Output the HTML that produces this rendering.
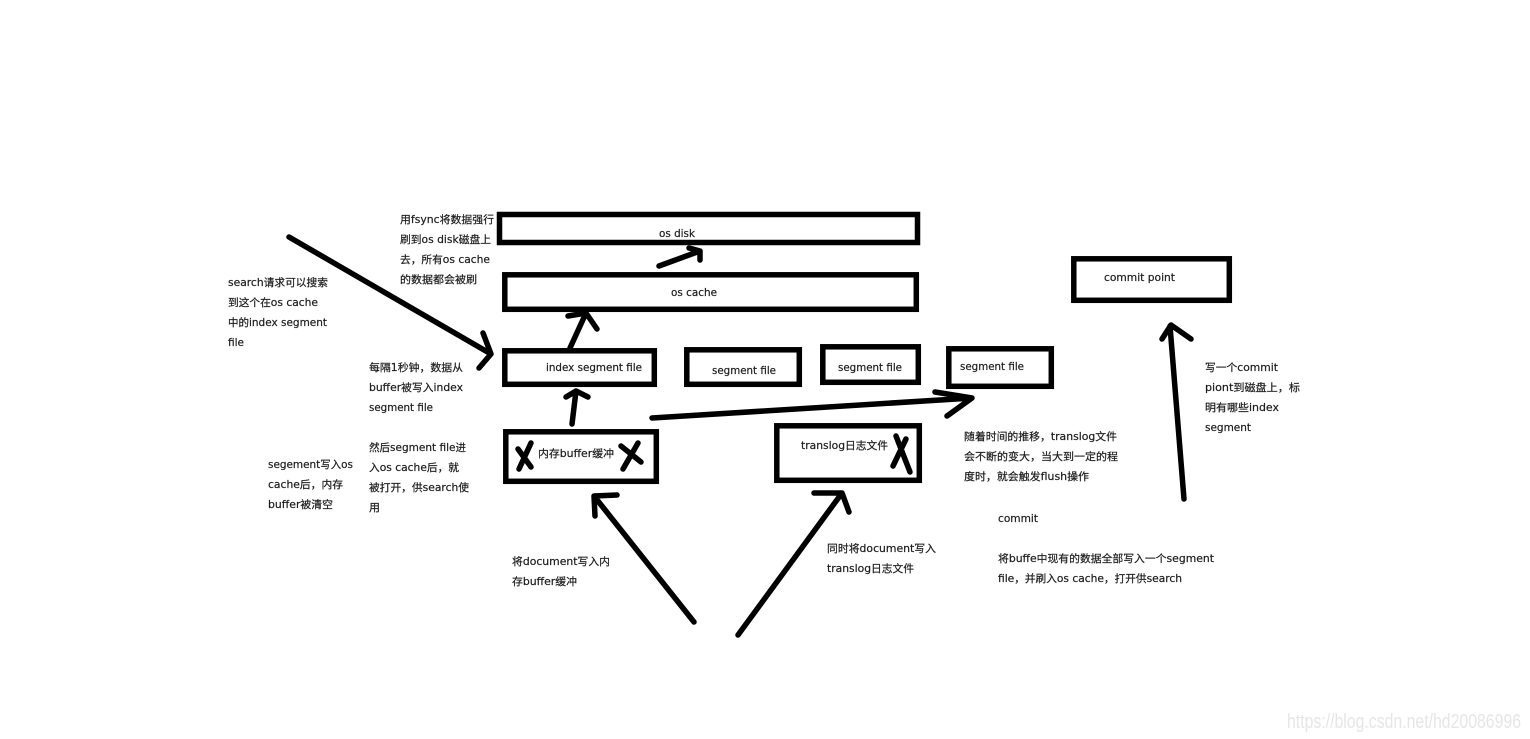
<!DOCTYPE html>
<html><head><meta charset="utf-8"><style>
html,body{margin:0;padding:0;background:#fff;width:1530px;height:739px;overflow:hidden}
svg{display:block}
text{font-family:"DejaVu Sans","Noto Sans CJK SC",sans-serif;font-size:10.5px;fill:#1c1c1c;stroke:#1c1c1c;stroke-width:.2px}
text.w{font-family:"Liberation Sans",sans-serif;font-size:20px;fill:#e6e6e6;stroke:none}
</style></head><body>
<svg width="1530" height="739" viewBox="0 0 1530 739" xmlns="http://www.w3.org/2000/svg">
<g fill="none" stroke="#000" stroke-width="5.500">
<rect x="499.500" y="214.500" width="418" height="28"/>
<rect x="504.800" y="274.800" width="411.500" height="34.500"/>
<rect x="504.800" y="350.800" width="149.500" height="33.500"/>
<rect x="686.800" y="349.800" width="112.500" height="34.500"/>
<rect x="822.800" y="346.800" width="95.500" height="35.500"/>
<rect x="948.800" y="348.800" width="102.500" height="37.500"/>
<rect x="776.800" y="425.800" width="142.500" height="54.500"/>
<rect x="505.800" y="431.800" width="150.500" height="49.500"/>
<rect x="1073.800" y="258.800" width="155.500" height="41.500"/>
</g>
<g fill="none" stroke="#000" stroke-width="5.500" stroke-linecap="round" stroke-linejoin="round">
<path d="M289 237L491 354M483 333L491 354L479 368" />
<path d="M570 348L586 313M568 316L586 313L597 329"/>
<path d="M572 424L576 391M566 397L576 391L588 397"/>
<path d="M659 266L700 251M689 248L700 251L700 260"/>
<path d="M652 418L972 398M935 392L972 398L947 416"/>
<path d="M694 622L594 496M595 516L594 496L617 495"/>
<path d="M738 635L842 493M814 493L842 493L849 512"/>
<path d="M1184 499L1170 326M1162 339L1171 325L1191 339"/>
<path d="M531 443L519 469M518 449L531 467"/>
<path d="M638 443L623 469M621 446L641 462"/>
<path d="M896 436L910 472M906 439L893 466"/>
</g>
<text x="659" y="237" textLength="36" lengthAdjust="spacingAndGlyphs">os disk</text>
<text x="671" y="296" textLength="46" lengthAdjust="spacingAndGlyphs">os cache</text>
<text x="546" y="371" textLength="96" lengthAdjust="spacingAndGlyphs">index segment file</text>
<text x="712" y="374" textLength="64" lengthAdjust="spacingAndGlyphs">segment file</text>
<text x="838" y="371" textLength="64" lengthAdjust="spacingAndGlyphs">segment file</text>
<text x="960" y="370" textLength="64" lengthAdjust="spacingAndGlyphs">segment file</text>
<text x="538" y="457" textLength="76" lengthAdjust="spacingAndGlyphs">内存buffer缓冲</text>
<text x="801" y="449" textLength="87" lengthAdjust="spacingAndGlyphs">translog日志文件</text>
<text x="1104" y="281" textLength="71" lengthAdjust="spacingAndGlyphs">commit point</text>
<text x="400" y="223" textLength="94" lengthAdjust="spacingAndGlyphs">用fsync将数据强行</text>
<text x="400" y="243" textLength="91" lengthAdjust="spacingAndGlyphs">刷到os disk磁盘上</text>
<text x="400" y="263" textLength="90" lengthAdjust="spacingAndGlyphs">去，所有os cache</text>
<text x="400" y="283" textLength="77" lengthAdjust="spacingAndGlyphs">的数据都会被刷</text>
<text x="228" y="286" textLength="100" lengthAdjust="spacingAndGlyphs">search请求可以搜索</text>
<text x="228" y="306" textLength="90" lengthAdjust="spacingAndGlyphs">到这个在os cache</text>
<text x="228" y="326" textLength="99" lengthAdjust="spacingAndGlyphs">中的index segment</text>
<text x="228" y="346" textLength="16" lengthAdjust="spacingAndGlyphs">file</text>
<text x="369" y="371" textLength="94" lengthAdjust="spacingAndGlyphs">每隔1秒钟，数据从</text>
<text x="369" y="391" textLength="94" lengthAdjust="spacingAndGlyphs">buffer被写入index</text>
<text x="369" y="411" textLength="64" lengthAdjust="spacingAndGlyphs">segment file</text>
<text x="369" y="451" textLength="97" lengthAdjust="spacingAndGlyphs">然后segment file进</text>
<text x="369" y="471" textLength="90" lengthAdjust="spacingAndGlyphs">入os cache后，就</text>
<text x="369" y="491" textLength="100" lengthAdjust="spacingAndGlyphs">被打开，供search使</text>
<text x="369" y="511" textLength="11" lengthAdjust="spacingAndGlyphs">用</text>
<text x="268" y="468" textLength="85" lengthAdjust="spacingAndGlyphs">segement写入os</text>
<text x="268" y="488" textLength="75" lengthAdjust="spacingAndGlyphs">cache后，内存</text>
<text x="268" y="508" textLength="65" lengthAdjust="spacingAndGlyphs">buffer被清空</text>
<text x="512" y="565" textLength="98" lengthAdjust="spacingAndGlyphs">将document写入内</text>
<text x="512" y="585" textLength="65" lengthAdjust="spacingAndGlyphs">存buffer缓冲</text>
<text x="827" y="552" textLength="109" lengthAdjust="spacingAndGlyphs">同时将document写入</text>
<text x="827" y="572" textLength="87" lengthAdjust="spacingAndGlyphs">translog日志文件</text>
<text x="964" y="440" textLength="153" lengthAdjust="spacingAndGlyphs">随着时间的推移，translog文件</text>
<text x="964" y="460" textLength="154" lengthAdjust="spacingAndGlyphs">会不断的变大，当大到一定的程</text>
<text x="964" y="480" textLength="125" lengthAdjust="spacingAndGlyphs">度时，就会触发flush操作</text>
<text x="998" y="522" textLength="40" lengthAdjust="spacingAndGlyphs">commit</text>
<text x="998" y="562" textLength="216" lengthAdjust="spacingAndGlyphs">将buffe中现有的数据全部写入一个segment</text>
<text x="998" y="582" textLength="184" lengthAdjust="spacingAndGlyphs">file，并刷入os cache，打开供search</text>
<text x="1205" y="371" textLength="73" lengthAdjust="spacingAndGlyphs">写一个commit</text>
<text x="1205" y="391" textLength="95" lengthAdjust="spacingAndGlyphs">piont到磁盘上，标</text>
<text x="1205" y="411" textLength="74" lengthAdjust="spacingAndGlyphs">明有哪些index</text>
<text x="1205" y="431" textLength="46" lengthAdjust="spacingAndGlyphs">segment</text>
<text class="w" x="1287" y="728" textLength="234" lengthAdjust="spacingAndGlyphs">https://blog.csdn.net/hd20086996</text>
</svg>
</body></html>
